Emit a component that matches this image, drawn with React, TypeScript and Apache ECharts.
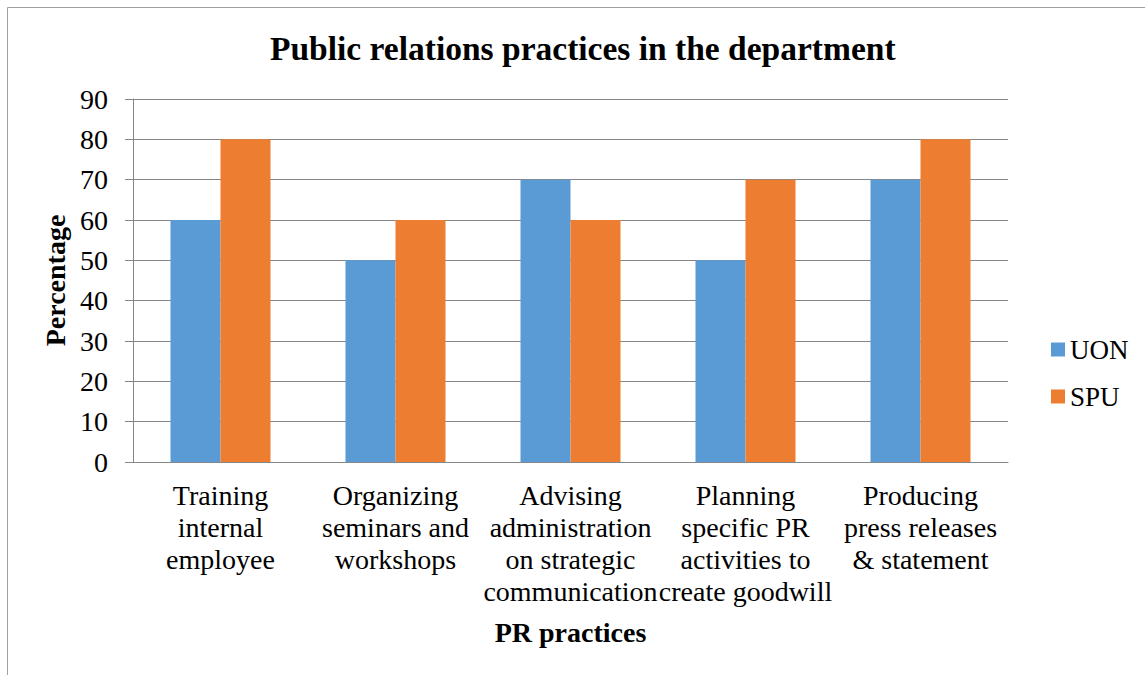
import React, { useEffect, useRef } from "react";
import * as echarts from "echarts";

const categories = [
  "Training\ninternal\nemployee",
  "Organizing\nseminars and\nworkshops",
  "Advising\nadministration\non strategic\ncommunication",
  "Planning\nspecific PR\nactivities to\ncreate goodwill",
  "Producing\npress releases\n& statement",
];
const uonValues = [60, 50, 70, 50, 70];
const spuValues = [80, 60, 60, 70, 80];

const FONT = "Liberation Serif";

export default function App() {
  const ref = useRef<HTMLDivElement>(null);
  useEffect(() => {
    const chart = echarts.init(ref.current!, null, { renderer: "svg" });
    chart.setOption({
      animation: false,
      textStyle: { fontFamily: FONT },
      title: {
        text: "Public relations practices in the department",
        left: 265,
        top: 26,
        textStyle: { fontFamily: FONT, fontSize: 33.5, fontWeight: "bold", color: "#000" },
      },
      graphic: [
        {
          type: "rect",
          shape: { x: 7.5, y: 7.5, width: 1300, height: 800 },
          style: { fill: "none", stroke: "#a0a0a0", lineWidth: 1 },
          silent: true,
        },
      ],
      legend: {
        orient: "vertical",
        left: 1046,
        top: 331,
        itemWidth: 14,
        itemHeight: 14,
        itemGap: 20,
        icon: "rect",
        textStyle: { fontFamily: FONT, fontSize: 27, color: "#000" },
        data: ["UON", "SPU"],
      },
      grid: { left: 133, right: 137, top: 99, bottom: 213, containLabel: false },
      xAxis: {
        type: "category",
        data: categories,
        name: "PR practices",
        nameLocation: "middle",
        nameGap: 156,
        nameTextStyle: { fontFamily: FONT, fontSize: 28, fontWeight: "bold", color: "#000" },
        axisLine: { lineStyle: { color: "#868686" } },
        axisTick: { show: false },
        axisLabel: {
          interval: 0,
          margin: 17,
          fontFamily: FONT,
          fontSize: 28,
          lineHeight: 32,
          color: "#000",
        },
      },
      yAxis: {
        type: "value",
        min: 0,
        max: 90,
        interval: 10,
        name: "Percentage",
        nameLocation: "middle",
        nameGap: 61,
        nameTextStyle: { fontFamily: FONT, fontSize: 28, fontWeight: "bold", color: "#000" },
        axisLine: { show: true, lineStyle: { color: "#868686" } },
        axisTick: { show: true, length: 8, lineStyle: { color: "#868686" } },
        axisLabel: { margin: 25, fontFamily: FONT, fontSize: 28, color: "#000" },
        splitLine: { lineStyle: { color: "#868686" } },
      },
      series: [
        {
          name: "UON",
          type: "bar",
          data: uonValues,
          barWidth: 50,
          barGap: "0%",
          itemStyle: { color: "#5B9BD5" },
        },
        {
          name: "SPU",
          type: "bar",
          data: spuValues,
          barWidth: 50,
          barGap: "0%",
          itemStyle: { color: "#ED7D31" },
        },
      ],
    });
    return () => chart.dispose();
  }, []);
  return (
    <div
      ref={ref}
      style={{ position: "absolute", left: 0, top: 0, width: 1145, height: 675, background: "#fff" }}
    />
  );
}
